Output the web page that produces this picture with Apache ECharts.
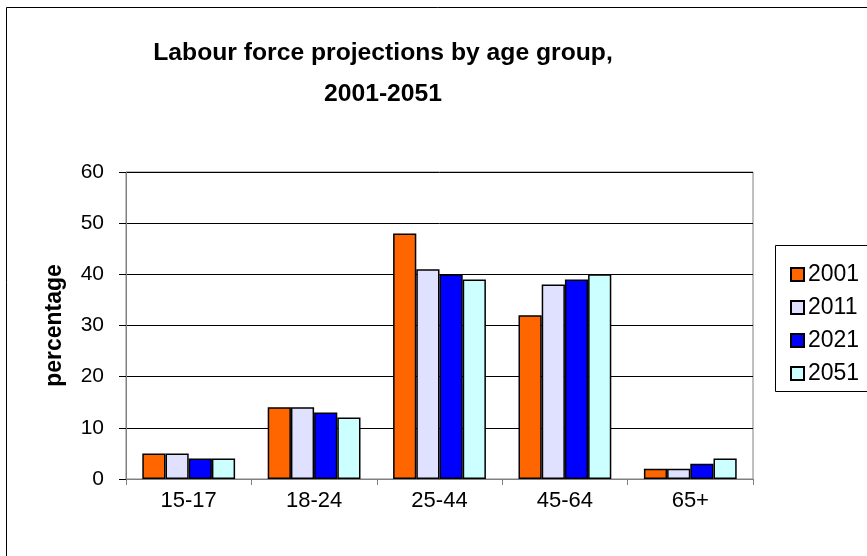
<!DOCTYPE html>
<html><head><meta charset="utf-8">
<script src="https://cdn.jsdelivr.net/npm/echarts@6/dist/echarts.min.js"></script>
<style>html,body{margin:0;padding:0;background:#fff}#c{width:867px;height:556px}</style>
</head><body><div id="c"></div>
<script>
var categories = ['15-17', '18-24', '25-44', '45-64', '65+'];
var seriesNames = ['2001', '2011', '2021', '2051'];
var v2001 = [5, 14, 48, 32, 2];
var v2011 = [5, 14, 41, 38, 2];
var v2021 = [4, 13, 40, 39, 3];
var v2051 = [4, 12, 39, 40, 4];
var yTicks = [0, 10, 20, 30, 40, 50, 60];
var colors = ['#FF6600', '#E0E0FF', '#0000FF', '#CCFFFF'];
var values = [v2001, v2011, v2021, v2051];

var chart = echarts.init(document.getElementById('c'));
var font = '"Liberation Sans", Arial, sans-serif';
chart.setOption({
  animation: false,
  backgroundColor: '#fff',
  title: {
    text: 'Labour force projections by age group,\n2001-2051',
    left: 378, top: 28, textAlign: 'center',
    textStyle: {fontFamily: font, fontSize: 24.7, fontWeight: 'bold', color: '#000', lineHeight: 41}
  },
  graphic: [
    {type: 'rect', shape: {x: 6.5, y: 7.5, width: 900, height: 600}, style: {fill: 'none', stroke: '#000', lineWidth: 1}, z: -1},
    {type: 'rect', shape: {x: 775.5, y: 245.5, width: 200, height: 146}, style: {fill: '#fff', stroke: '#000', lineWidth: 1}, z: 0}
  ],
  legend: {
    orient: 'vertical', left: 785, top: 258, itemGap: 10, itemWidth: 13, itemHeight: 13,
    icon: 'rect', data: seriesNames, z: 5,
    textStyle: {fontFamily: font, fontSize: 23, lineHeight: 23, color: '#000', padding: [0, 0, 0, -1]}
  },
  grid: {left: 126, top: 172, right: 114, bottom: 77, show: true, borderColor: '#808080', borderWidth: 1},
  xAxis: {
    type: 'category', data: categories,
    axisLine: {lineStyle: {color: '#808080'}},
    axisTick: {show: true, length: 6, lineStyle: {color: '#808080'}},
    axisLabel: {fontFamily: font, fontSize: 22, color: '#000', margin: 11}
  },
  yAxis: {
    type: 'value', min: yTicks[0], max: yTicks[yTicks.length - 1], interval: 10,
    name: 'percentage', nameLocation: 'middle', nameGap: 60, nameRotate: 90,
    nameTextStyle: {fontFamily: font, fontSize: 23, fontWeight: 'bold', color: '#000'},
    axisLine: {show: true, lineStyle: {color: '#808080'}},
    axisTick: {show: true, length: 7, lineStyle: {color: '#000'}},
    axisLabel: {fontFamily: font, fontSize: 21, color: '#000', margin: 22},
    splitLine: {lineStyle: {color: '#000', width: 1}}
  },
  series: seriesNames.map(function (n, i) {
    return {
      name: n, type: 'bar', data: values[i], barGap: '0%', barCategoryGap: '26%',
      itemStyle: {color: colors[i], borderColor: '#000', borderWidth: 1.5}
    };
  })
});
</script></body></html>
